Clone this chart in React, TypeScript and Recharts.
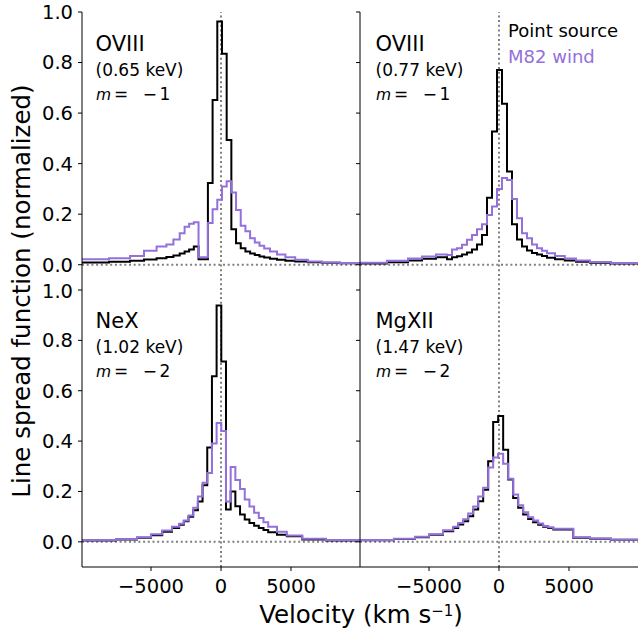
import { LineChart, Line, XAxis, YAxis, ReferenceLine } from 'recharts';

const FONT = 'DejaVu Sans';
const PURPLE = '#9370DB';

// velocity bin edges (km/s), one value per bin for each curve
const oviii65Edges = [
  -10000, -8000, -6500, -5500, -4600, -3900, -3400, -2950, -2600, -2275, -1940, -1605, -1270,
  -935, -600, -265, 70, 405, 740, 1075, 1410, 1745, 2080, 2415, 2750, 3085, 3500, 4000, 4600,
  5300, 6200, 7200, 8500, 10000,
];
const oviii65Point = [
  0.009, 0.012, 0.016, 0.021, 0.026, 0.031, 0.037, 0.044, 0.052, 0.06, 0.072, 0.022, 0.022,
  0.323, 0.652, 0.962, 0.835, 0.494, 0.14, 0.085, 0.065, 0.052, 0.044, 0.038, 0.033, 0.029,
  0.024, 0.02, 0.016, 0.013, 0.01, 0.008, 0.006,
];
const oviii65Wind = [
  0.022, 0.026, 0.035, 0.055, 0.072, 0.08, 0.1, 0.125, 0.15, 0.162, 0.168, 0.03, 0.03, 0.165,
  0.22, 0.257, 0.31, 0.33, 0.286, 0.217, 0.154, 0.132, 0.105, 0.088, 0.075, 0.064, 0.052, 0.04,
  0.03, 0.02, 0.013, 0.009, 0.007,
];

const oviii77Edges = [
  -10000, -8000, -6500, -5500, -4500, -3713, -3356, -2999, -2642, -2285, -1928, -1571, -1214,
  -857, -500, -143, 214, 571, 928, 1285, 1642, 1999, 2356, 2713, 3070, 3427, 4000, 4700, 5500,
  6500, 8000, 10000,
];
const oviii77Point = [
  0.005, 0.01, 0.017, 0.024, 0.03, 0.022, 0.03, 0.034, 0.04, 0.048, 0.06, 0.08, 0.118, 0.265,
  0.527, 0.771, 0.637, 0.369, 0.16, 0.1, 0.072, 0.056, 0.046, 0.04, 0.035, 0.028, 0.022, 0.017,
  0.012, 0.008, 0.005,
];
const oviii77Wind = [
  0.008, 0.016, 0.025, 0.033, 0.04, 0.038, 0.06, 0.065, 0.079, 0.099, 0.118, 0.14, 0.16, 0.197,
  0.23, 0.3, 0.343, 0.335, 0.26, 0.184, 0.125, 0.105, 0.08, 0.065, 0.055, 0.045, 0.035, 0.025,
  0.017, 0.011, 0.007,
];

const nexEdges = [
  -10000, -7500, -6000, -5000, -4200, -3500, -2992, -2657, -2322, -1987, -1652, -1317, -982,
  -647, -314, 21, 356, 691, 1026, 1361, 1696, 2031, 2366, 2701, 3036, 3371, 4000, 4700, 5800,
  7500, 10000,
];
const nexPoint = [
  0.005, 0.009, 0.016, 0.026, 0.04, 0.055, 0.068, 0.082, 0.1, 0.125, 0.16, 0.225, 0.375, 0.657,
  0.938, 0.716, 0.128, 0.2, 0.141, 0.108, 0.089, 0.075, 0.064, 0.055, 0.047, 0.038, 0.028, 0.022,
  0.009, 0.005,
];
const nexWind = [
  0.006, 0.01, 0.018, 0.03, 0.045, 0.06, 0.072, 0.085, 0.105, 0.135, 0.18, 0.235, 0.273, 0.39,
  0.472, 0.44, 0.16, 0.297, 0.245, 0.21, 0.168, 0.14, 0.115, 0.095, 0.078, 0.06, 0.04, 0.025,
  0.012, 0.007,
];

const mgxiiEdges = [
  -10000, -7500, -6000, -5000, -4000, -3273, -2916, -2559, -2202, -1845, -1488, -1131, -774,
  -417, -60, 297, 654, 1011, 1368, 1725, 2082, 2439, 2796, 3153, 3510, 3880, 5300, 6500, 8000,
  10000,
];
const mgxiiPoint = [
  0.006, 0.011, 0.018, 0.028, 0.042, 0.055, 0.069, 0.082, 0.102, 0.128, 0.161, 0.207, 0.32,
  0.476, 0.5, 0.366, 0.247, 0.174, 0.135, 0.108, 0.091, 0.078, 0.068, 0.06, 0.055, 0.049, 0.016,
  0.012, 0.008,
];
const mgxiiWind = [
  0.007, 0.012, 0.02, 0.03, 0.046, 0.06, 0.075, 0.09, 0.112, 0.14, 0.18, 0.215, 0.295, 0.335,
  0.35, 0.31, 0.25, 0.188, 0.145, 0.117, 0.098, 0.085, 0.073, 0.063, 0.058, 0.052, 0.018, 0.013,
  0.008,
];

const yTicks = [0, 0.2, 0.4, 0.6, 0.8, 1.0];
const xTicks = [-5000, 0, 5000];
const X_DOMAIN: [number, number] = [-9930, 9930];
const Y_DOMAIN: [number, number] = [-0.1, 1.0];

const tickStyle = { fill: '#000', fontSize: 19.5, fontFamily: FONT };
const axisStyle = { stroke: '#000', strokeWidth: 1 };
const fmtX = (v: number) => (v < 0 ? '\u2212' + Math.abs(v) : String(v));
const fmtY = (v: number) => v.toFixed(1);
const blank = () => '';

function Panel({ edges, point, wind, left, top, width, height, margin, yLabels, bottom }: any) {
  const rows = edges.map((v: number, i: number) => ({
    v,
    point: point[Math.min(i, point.length - 1)],
    wind: wind[Math.min(i, wind.length - 1)],
  }));
  return (
    <div style={{ position: 'absolute', left, top }}>
      <LineChart width={width} height={height} data={rows} margin={margin}>
        <XAxis
          dataKey="v"
          type="number"
          domain={X_DOMAIN}
          allowDataOverflow
          ticks={xTicks}
          hide={!bottom}
          height={40}
          tickSize={4}
          tickMargin={8}
          tick={tickStyle}
          tickFormatter={fmtX}
          axisLine={axisStyle}
          tickLine={axisStyle}
        />
        {bottom && (
          <XAxis
            xAxisId="top"
            orientation="top"
            dataKey="v"
            type="number"
            domain={X_DOMAIN}
            allowDataOverflow
            ticks={xTicks}
            height={0}
            tickSize={4}
            tick={tickStyle}
            tickFormatter={blank}
            axisLine={axisStyle}
            tickLine={axisStyle}
          />
        )}
        <YAxis
          type="number"
          domain={Y_DOMAIN}
          allowDataOverflow
          ticks={yTicks}
          width={60}
          tickSize={4}
          tickMargin={5}
          tick={tickStyle}
          tickFormatter={yLabels ? fmtY : blank}
          axisLine={axisStyle}
          tickLine={axisStyle}
        />
        <ReferenceLine x={0} stroke="#808080" strokeWidth={2} strokeDasharray="2 2.7" />
        <ReferenceLine y={0} stroke="#808080" strokeWidth={2} strokeDasharray="2 2.7" />
        <Line
          type="stepAfter"
          dataKey="point"
          stroke="#000"
          strokeWidth={2}
          dot={false}
          activeDot={false}
          isAnimationActive={false}
        />
        <Line
          type="stepAfter"
          dataKey="wind"
          stroke={PURPLE}
          strokeWidth={2}
          dot={false}
          activeDot={false}
          isAnimationActive={false}
        />
      </LineChart>
    </div>
  );
}

function Note({ x, y, ion, energy, order }: any) {
  return (
    <g fontFamily={FONT} fill="#000">
      <text x={x} y={y} fontSize={21}>{ion}</text>
      <text x={x} y={y + 25} fontSize={17}>{energy}</text>
      <text x={x + 0.5} y={y + 49} fontSize={17}>
        <tspan fontStyle="italic" fontSize={15.5}>m</tspan>
        <tspan dx={3}>=</tspan>
        <tspan dx={14.5}>{'\u2212'}</tspan>
        <tspan dx={2.3}>{order}</tspan>
      </text>
    </g>
  );
}

export default function App() {
  return (
    <div
      style={{
        position: 'absolute',
        left: 0,
        top: 0,
        width: 639,
        height: 628,
        background: '#fff',
        fontFamily: FONT,
        overflow: 'hidden',
      }}
    >
      <Panel
        edges={oviii65Edges}
        point={oviii65Point}
        wind={oviii65Wind}
        left={0}
        top={0}
        width={370}
        height={300}
        margin={{ top: 12, right: 10, bottom: 10, left: 22 }}
        yLabels
      />
      <Panel
        edges={oviii77Edges}
        point={oviii77Point}
        wind={oviii77Wind}
        left={300}
        top={0}
        width={348}
        height={300}
        margin={{ top: 12, right: 10, bottom: 10, left: 0 }}
      />
      <Panel
        edges={nexEdges}
        point={nexPoint}
        wind={nexWind}
        left={0}
        top={280}
        width={370}
        height={348}
        margin={{ top: 10, right: 10, bottom: 21, left: 22 }}
        yLabels
        bottom
      />
      <Panel
        edges={mgxiiEdges}
        point={mgxiiPoint}
        wind={mgxiiWind}
        left={300}
        top={280}
        width={348}
        height={348}
        margin={{ top: 10, right: 10, bottom: 21, left: 0 }}
        bottom
      />
      <svg
        width={639}
        height={628}
        style={{ position: 'absolute', left: 0, top: 0, pointerEvents: 'none' }}
      >
        <Note x={95.5} y={51} ion="OVIII" energy="(0.65 keV)" order="1" />
        <Note x={375.5} y={51} ion="OVIII" energy="(0.77 keV)" order="1" />
        <Note x={95.5} y={328} ion="NeX" energy="(1.02 keV)" order="2" />
        <Note x={375.5} y={328} ion="MgXII" energy="(1.47 keV)" order="2" />
        <text x={508} y={37} fontSize={18} fontFamily={FONT} fill="#000">Point source</text>
        <text x={508} y={62.5} fontSize={18} fontFamily={FONT} fill={PURPLE}>M82 wind</text>
        <text
          transform="rotate(-90)"
          x={-291}
          y={30}
          textAnchor="middle"
          fontSize={24.5}
          fontFamily={FONT}
          fill="#000"
        >
          Line spread function (normalized)
        </text>
        <text x={361} y={623} textAnchor="middle" fontSize={24.5} fontFamily={FONT} fill="#000">
          Velocity (km s
          <tspan fontSize={15} dy={-7}>{'\u22121'}</tspan>
          <tspan dy={7}>)</tspan>
        </text>
      </svg>
    </div>
  );
}
